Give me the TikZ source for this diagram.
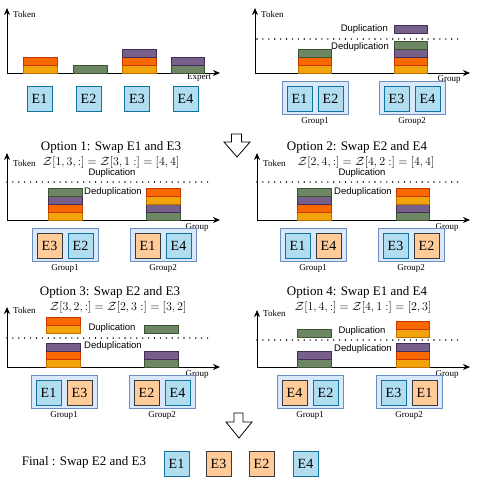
\documentclass[tikz,border=0pt]{standalone}
\usepackage{fontspec}
\setmainfont{Liberation Serif}
\newfontfamily\dupsans{Liberation Sans}
\usetikzlibrary{arrows.meta}
\definecolor{ambfill}{HTML}{F0A30A}
\definecolor{ambline}{HTML}{BD7000}
\definecolor{orafill}{HTML}{FA6800}
\definecolor{oraline}{HTML}{C73500}
\definecolor{purfill}{HTML}{76608A}
\definecolor{purline}{HTML}{432D57}
\definecolor{grnfill}{HTML}{6D8764}
\definecolor{grnline}{HTML}{3A5431}
\definecolor{expblue}{HTML}{B1DDF0}
\definecolor{expblueline}{HTML}{10739E}
\definecolor{exppeach}{HTML}{FFCC99}
\definecolor{exppeachline}{HTML}{36393D}
\definecolor{grpfill}{HTML}{DAE8FC}
\definecolor{grpline}{HTML}{6C8EBF}
\begin{document}
\begin{tikzpicture}[x=1pt,y=-1pt,
    every node/.style={inner sep=0pt},
    ax/.style={line width=0.8pt,-{Stealth[length=7pt,width=6pt]}},
    dots/.style={line width=1.6pt,line cap=round,dash pattern=on 0pt off 5.9pt},
    yel/.style={fill=ambfill,draw=ambline,line width=0.7pt},
    ora/.style={fill=orafill,draw=oraline,line width=0.7pt},
    pur/.style={fill=purfill,draw=purline,line width=0.7pt},
    grn/.style={fill=grnfill,draw=grnline,line width=0.7pt},
    ebox/.style={draw=expblueline,fill=expblue,line width=0.8pt,minimum width=25pt,minimum height=25pt,font=\fontsize{14}{14}\selectfont},
    obox/.style={ebox,draw=exppeachline,fill=exppeach},
    grp/.style={draw=grpline,fill=grpfill,line width=0.8pt,minimum width=66pt,minimum height=33pt},
    small/.style={font=\fontsize{9}{9}\selectfont},
    sans/.style={font=\dupsans\fontsize{9.5}{9.5}\selectfont},
    title/.style={font=\fontsize{13}{13}\selectfont},
    formula/.style={font=\fontsize{12}{12}\selectfont},
    blockarrow/.style={draw,line width=0.8pt,fill=white}]
\useasboundingbox (0,0) rectangle (478,477);

% experts
\begin{scope}[shift={(7,73)}]
    \draw[ax] (0,0) -- (0,-65);
    \draw[ax] (0,0) -- (213,0);
    \node[small,anchor=west] (tok0) at (6,-59) {Token};
    \node[small] (xlab0) at (192,5) {Expert};
    \draw[yel] (16,0) rectangle (50,-8);
    \draw[ora] (16,-8) rectangle (50,-16);
    \draw[grn] (66,0) rectangle (100,-8);
    \draw[yel] (115,0) rectangle (149,-8);
    \draw[ora] (115,-8) rectangle (149,-16);
    \draw[pur] (115,-16) rectangle (149,-24);
    \draw[grn] (164,0) rectangle (197,-8);
    \draw[pur] (164,-8) rectangle (197,-16);
    \node[ebox] (e1) at (32.5,25.5) {E1};
    \node[ebox] (e2) at (81.5,25.5) {E2};
    \node[ebox] (e3) at (130,25.5) {E3};
    \node[ebox] (e4) at (178.5,25.5) {E4};
\end{scope}

% groups
\begin{scope}[shift={(255,73)}]
    \draw[ax] (0,0) -- (0,-65);
    \draw[ax] (0,0) -- (215,0);
    \node[small,anchor=west] (tok1) at (6,-59) {Token};
    \node[small] (xlab1) at (194,6) {Group};
    \draw[dots] (2,-34) -- (203,-34);
    \draw[yel] (43,0) rectangle (76,-8);
    \draw[ora] (43,-8) rectangle (76,-16);
    \draw[grn] (43,-16) rectangle (76,-24);
    \draw[yel] (139,0) rectangle (172,-8);
    \draw[ora] (139,-8) rectangle (172,-16);
    \draw[pur] (139,-16) rectangle (172,-24);
    \draw[grn] (139,-24) rectangle (172,-32);
    \draw[pur] (139,-40) rectangle (172,-48);
    \node[sans,anchor=east] (dup1) at (133,-44) {Duplication};
    \node[sans,anchor=east] (dedup1) at (134,-26) {Deduplication};
    \node[grp] (g1) at (60,25) {};
    \node[grp] (g2) at (157,25) {};
    \node[ebox] (g1e1) at (44.5,25.5) {E1};
    \node[ebox] (g1e2) at (75.5,25.5) {E2};
    \node[ebox] (g2e3) at (141.5,25.5) {E3};
    \node[ebox] (g2e4) at (172.5,25.5) {E4};
    \node[small] (g1lab) at (60,48) {Group1};
    \node[small] (g2lab) at (157,48) {Group2};
\end{scope}

\draw[blockarrow] (231.5,134) -- (241.5,134) -- (241.5,142) -- (250,142) -- (237,157)
    -- (224,142) -- (231.5,142) -- cycle;

% option 1
\begin{scope}[shift={(7,220)}]
    \draw[ax] (0,0) -- (0,-67);
    \draw[ax] (0,0) -- (213,0);
    \node[small,anchor=west] (tok2) at (6,-57) {Token};
    \node[small] (xlab2) at (190,7) {Group};
    \node[title] (opt1) at (104,-73) {Option 1: Swap E1 and E3};
    \node[formula] (z1) at (104,-58) {$\mathcal{Z}[1,3,:]=\mathcal{Z}[3,1:]=[4,4]$};
    \draw[dots] (0,-38) -- (206,-38);
    \node[sans] (dup2) at (105,-47) {Duplication};
    \node[sans] (dedup2) at (106,-28) {Deduplication};
    \draw[yel] (41,0) rectangle (75,-8);
    \draw[ora] (41,-8) rectangle (75,-16);
    \draw[pur] (41,-16) rectangle (75,-24);
    \draw[grn] (41,-24) rectangle (75,-32);
    \draw[grn] (139,0) rectangle (173,-8);
    \draw[pur] (139,-8) rectangle (173,-16);
    \draw[yel] (139,-16) rectangle (173,-24);
    \draw[ora] (139,-24) rectangle (173,-32);
    \node[grp] (o1g1) at (58,25) {};
    \node[grp] (o1g2) at (156,25) {};
    \node[obox] (o1e3) at (42.5,25.5) {E3};
    \node[ebox] (o1e2) at (73.5,25.5) {E2};
    \node[obox] (o1e1) at (140.5,25.5) {E1};
    \node[ebox] (o1e4) at (171.5,25.5) {E4};
    \node[small] (o1lab1) at (58,48) {Group1};
    \node[small] (o1lab2) at (156,48) {Group2};
\end{scope}

% option 2
\begin{scope}[shift={(257,220)}]
    \draw[ax] (0,0) -- (0,-67);
    \draw[ax] (0,0) -- (213,0);
    \node[small,anchor=west] (tok3) at (6,-57) {Token};
    \node[small] (xlab3) at (190,7) {Group};
    \node[title] (opt2) at (100,-73) {Option 2: Swap E2 and E4};
    \node[formula] (z2) at (109,-58) {$\mathcal{Z}[2,4,:]=\mathcal{Z}[4,2:]=[4,4]$};
    \draw[dots] (0,-38) -- (206,-38);
    \node[sans] (dup3) at (105,-47) {Duplication};
    \node[sans] (dedup3) at (106,-28) {Deduplication};
    \draw[yel] (40,0) rectangle (74,-8);
    \draw[ora] (40,-8) rectangle (74,-16);
    \draw[pur] (40,-16) rectangle (74,-24);
    \draw[grn] (40,-24) rectangle (74,-32);
    \draw[grn] (139,0) rectangle (172,-8);
    \draw[pur] (139,-8) rectangle (172,-16);
    \draw[yel] (139,-16) rectangle (172,-24);
    \draw[ora] (139,-24) rectangle (172,-32);
    \node[grp] (o2g1) at (56,25) {};
    \node[grp] (o2g2) at (154,25) {};
    \node[ebox] (o2e1) at (40.5,25.5) {E1};
    \node[obox] (o2e4) at (71.5,25.5) {E4};
    \node[ebox] (o2e3) at (138.5,25.5) {E3};
    \node[obox] (o2e2) at (169.5,25.5) {E2};
    \node[small] (o2lab1) at (56,48) {Group1};
    \node[small] (o2lab2) at (154,48) {Group2};
\end{scope}

% option 3
\begin{scope}[shift={(7,367)}]
    \draw[ax] (0,0) -- (0,-60);
    \draw[ax] (0,0) -- (213,0);
    \node[small,anchor=west] (tok4) at (6,-57) {Token};
    \node[small] (xlab4) at (190,7) {Group};
    \node[title] (opt3) at (103,-75) {Option 3: Swap E2 and E3};
    \node[formula] (z3) at (111,-60) {$\mathcal{Z}[3,2,:]=\mathcal{Z}[2,3:]=[3,2]$};
    \draw[dots] (0,-29) -- (206,-29);
    \node[sans] (dup4) at (105,-39) {Duplication};
    \node[sans] (dedup4) at (106,-21) {Deduplication};
    \draw[yel] (39,0) rectangle (73,-8);
    \draw[ora] (39,-8) rectangle (73,-16);
    \draw[pur] (39,-16) rectangle (73,-24);
    \draw[yel] (39,-34) rectangle (73,-42);
    \draw[ora] (39,-42) rectangle (73,-50);
    \draw[grn] (137,0) rectangle (171,-8);
    \draw[pur] (137,-8) rectangle (171,-16);
    \draw[grn] (137,-34) rectangle (171,-42);
    \node[grp] (o3g1) at (57,25) {};
    \node[grp] (o3g2) at (155,25) {};
    \node[ebox] (o3e1) at (41.5,25.5) {E1};
    \node[obox] (o3e3) at (72.5,25.5) {E3};
    \node[obox] (o3e2) at (139.5,25.5) {E2};
    \node[ebox] (o3e4) at (170.5,25.5) {E4};
    \node[small] (o3lab1) at (57,48) {Group1};
    \node[small] (o3lab2) at (155,48) {Group2};
\end{scope}

% option 4
\begin{scope}[shift={(257,367)}]
    \draw[ax] (0,0) -- (0,-57);
    \draw[ax] (0,0) -- (213,0);
    \node[small,anchor=west] (tok5) at (6,-54) {Token};
    \node[small] (xlab5) at (190,7) {Group};
    \node[title] (opt4) at (100,-75) {Option 4: Swap E1 and E4};
    \node[formula] (z4) at (106,-60) {$\mathcal{Z}[1,4,:]=\mathcal{Z}[4,1:]=[2,3]$};
    \draw[dots] (0,-27) -- (206,-27);
    \node[sans] (dup5) at (105,-36) {Duplication};
    \node[sans] (dedup5) at (106,-18) {Deduplication};
    \draw[grn] (40,0) rectangle (74,-8);
    \draw[pur] (40,-8) rectangle (74,-16);
    \draw[grn] (40,-30) rectangle (74,-38);
    \draw[yel] (139,0) rectangle (172,-8);
    \draw[ora] (139,-8) rectangle (172,-16);
    \draw[pur] (139,-16) rectangle (172,-24);
    \draw[yel] (139,-30) rectangle (172,-38);
    \draw[ora] (139,-38) rectangle (172,-46);
    \node[grp] (o4g1) at (53,25) {};
    \node[grp] (o4g2) at (152,25) {};
    \node[obox] (o4e4) at (37.5,25.5) {E4};
    \node[ebox] (o4e2) at (68.5,25.5) {E2};
    \node[ebox] (o4e3) at (136.5,25.5) {E3};
    \node[obox] (o4e1) at (167.5,25.5) {E1};
    \node[small] (o4lab1) at (53,48) {Group1};
    \node[small] (o4lab2) at (152,48) {Group2};
\end{scope}

\draw[blockarrow] (234,413) -- (243,413) -- (243,422) -- (252,422) -- (239,438)
    -- (226,422) -- (234,422) -- cycle;

% final
\node[title] (final) at (84,462) {Final : Swap E2 and E3};
\node[ebox] (f1) at (176.5,463.5) {E1};
\node[obox] (f3) at (218.5,463.5) {E3};
\node[obox] (f2) at (261.5,463.5) {E2};
\node[ebox] (f4) at (305.5,463.5) {E4};
\end{tikzpicture}
\end{document}
